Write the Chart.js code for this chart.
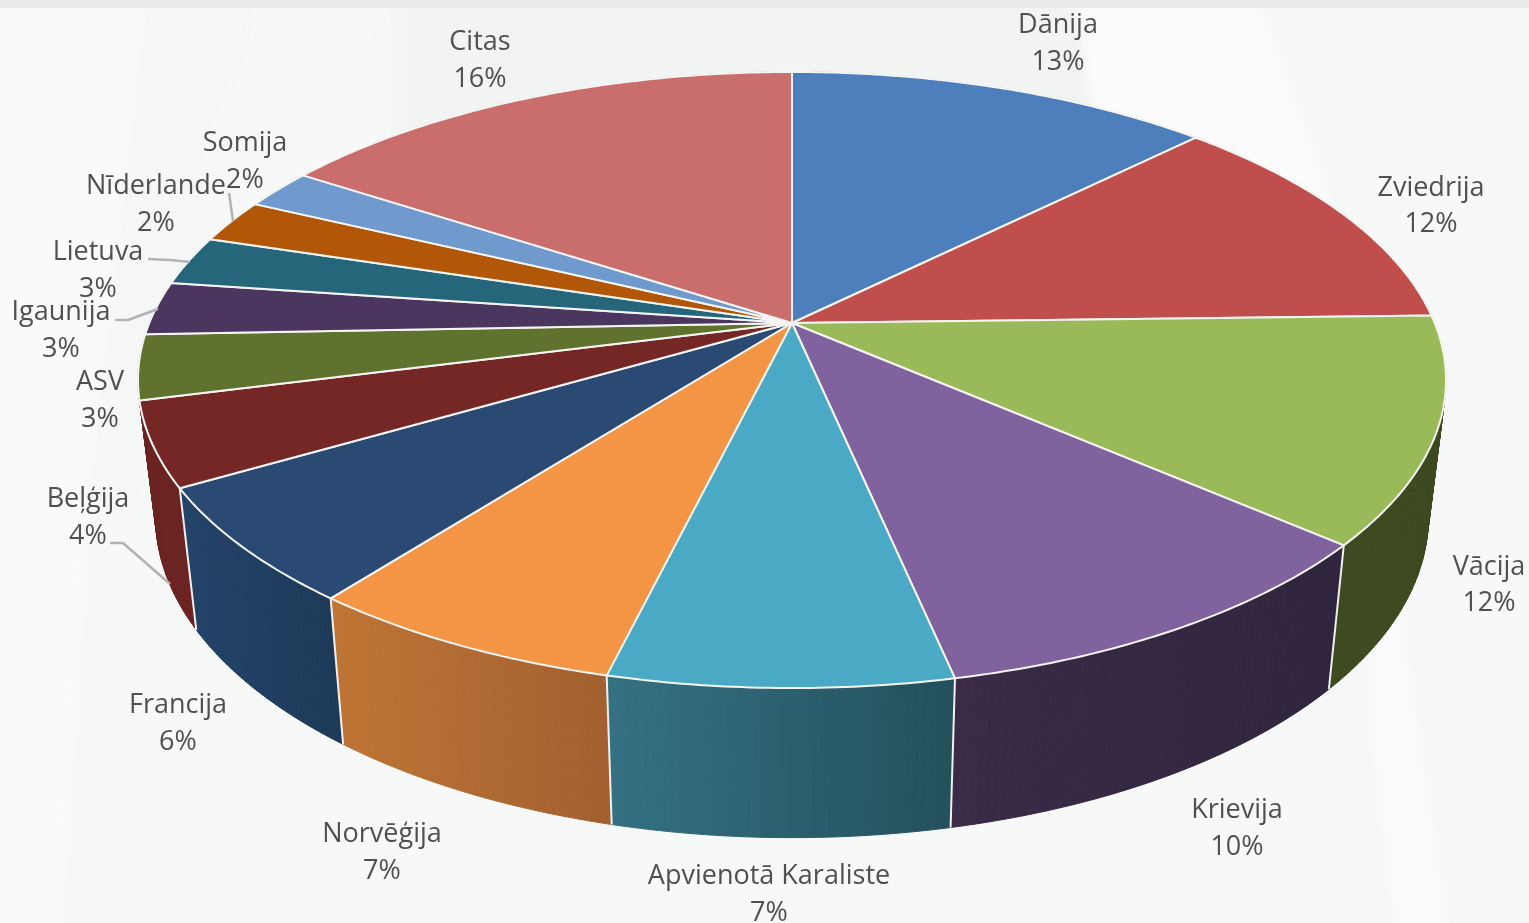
<!DOCTYPE html>
<html>
<head>
<meta charset="utf-8">
<style>
html, body { margin: 0; padding: 0; background: #f7f8f8; overflow: hidden; }
canvas { display: block; }
</style>
<script src="https://cdn.jsdelivr.net/npm/chart.js@4"></script>
</head>
<body>
<canvas id="pie" width="1529" height="923"></canvas>
<script>
// data
const countries = ['Dānija', 'Zviedrija', 'Vācija', 'Krievija', 'Apvienotā Karaliste', 'Norvēģija', 'Francija',
    'Beļģija', 'ASV', 'Igaunija', 'Lietuva', 'Nīderlande', 'Somija', 'Citas'];
const shares = [12.57, 12.03, 11.8, 10.27, 7.13, 6.7, 6.1, 4.4, 3.4, 2.8, 2.6, 2.3, 2.1, 15.8];

// styles
const topColors = ['#4c7fbb', '#bf4e4c', '#9aba59', '#80629f', '#4aa9c4', '#f49445', '#2a4a73', '#752725',
    '#5f732e', '#4b3660', '#25667a', '#b25608', '#7099cd', '#ca6e6d'];
const wallLeft = ['#2d4d72', '#742e2d', '#3e4a20', '#3a2b47', '#347183', '#bf7535', '#234369', '#6b2321',
    '#3a461b', '#2e2040', '#173f4a', '#6a3305', '#44607f', '#7a4241'];
const wallRight = ['#2d4d72', '#742e2d', '#3c4820', '#2f243e', '#23505b', '#a36030', '#1d3a59', '#6b2321',
    '#3a461b', '#2e2040', '#173f4a', '#6a3305', '#44607f', '#7a4241'];

// label layout: centre x, y of the name line, y of the percent line
const labelSpots = [[1058, 25, 62], [1431, 188, 224], [1489, 567, 603], [1237, 810, 847], [769, 876, 913],
    [382, 834, 871], [178, 705, 742], [88, 499, 536], [100, 382, 419], [61, 312, 349], [98, 252, 289],
    [156, 186, 223], [245, 143, 180], [480, 42, 79]];
const leaders = [
    [[229, 193], [233, 221]],
    [[148, 259], [170, 260], [190, 262]],
    [[115, 320], [128, 320], [158, 309]],
    [[110, 543], [123, 543], [170, 584]]
];

// perspective of the disc: centre at 792,323, squeezed towards the back
const cx = 792, cy = 323, radiusX = 642.7, radiusY = 297.5, tilt = 0.185;

function project(angle) {
    const X = Math.cos(angle), Y = Math.sin(angle);
    const d = 1 - tilt * Y;
    return [cx + radiusX * X / d, cy + radiusY * Y / d];
}

// same point on the lower rim of the cake
function lower(p) {
    return [cx + 0.973 * (p[0] - cx), 458 + 1.04 * (p[1] - cy)];
}

function drawBackdrop(ctx) {
    const shards = [
        ['#f9fafa', [[-20, -20], [150, -20], [90, 500], [60, 950], [-20, 950]]],
        ['#f5f6f6', [[150, -20], [270, -20], [130, 500], [90, 500]]],
        ['#f7f8f8', [[270, -20], [395, -20], [330, 170], [200, 170]]],
        ['#f2f3f3', [[395, -20], [1075, -20], [1125, 300], [395, 300]]],
        ['#fbfbfb', [[1075, -20], [1250, -20], [1330, 200], [1105, 200]]],
        ['#fbfbfb', [[1390, 560], [1450, 950], [1400, 950], [1370, 700]]]
    ];
    ctx.save();
    ctx.filter = 'blur(5px)';
    shards.forEach(function (s) {
        ctx.fillStyle = s[0];
        ctx.beginPath();
        s[1].forEach(function (p) { ctx.lineTo(p[0], p[1]); });
        ctx.closePath();
        ctx.fill();
    });
    ctx.restore();
    ctx.fillStyle = '#e9eaea';
    ctx.fillRect(0, 0, 1529, 8);
}

function drawWall(ctx, arc, i) {
    const steps = Math.max(8, Math.ceil((arc.endAngle - arc.startAngle) * 90));
    const pts = [];
    for (let s = 0; s <= steps; s++) {
        pts.push(project(arc.startAngle + (arc.endAngle - arc.startAngle) * s / steps));
    }
    const xs = pts.map(function (p) { return p[0]; });
    const grad = ctx.createLinearGradient(Math.min.apply(null, xs), 0, Math.max.apply(null, xs), 0);
    grad.addColorStop(0, wallLeft[i]);
    grad.addColorStop(1, wallRight[i]);
    ctx.fillStyle = grad;
    ctx.strokeStyle = grad;
    ctx.lineWidth = 1;
    for (let s = 0; s < steps; s++) {
        const a = pts[s], b = pts[s + 1], c = lower(b), d = lower(a);
        ctx.beginPath();
        ctx.moveTo(a[0], a[1]);
        ctx.lineTo(b[0], b[1]);
        ctx.lineTo(c[0], c[1]);
        ctx.lineTo(d[0], d[1]);
        ctx.closePath();
        ctx.fill();
        ctx.stroke();
    }
}

function drawTop(ctx, arc, i) {
    const steps = Math.max(8, Math.ceil((arc.endAngle - arc.startAngle) * 90));
    ctx.beginPath();
    ctx.moveTo(cx, cy);
    for (let s = 0; s <= steps; s++) {
        const p = project(arc.startAngle + (arc.endAngle - arc.startAngle) * s / steps);
        ctx.lineTo(p[0], p[1]);
    }
    ctx.closePath();
    ctx.fillStyle = topColors[i];
    ctx.fill();
    ctx.strokeStyle = '#f4f4f2';
    ctx.lineWidth = 2;
    ctx.lineJoin = 'round';
    ctx.stroke();
}

const cakePlugin = {
    id: 'cake',
    beforeDatasetsDraw: function (chart) {
        const ctx = chart.ctx;
        const arcs = chart.getDatasetMeta(0).data;
        ctx.save();
        drawBackdrop(ctx);

        // walls back to front, lids cover whatever is behind
        const order = arcs.map(function (arc, i) { return i; }).sort(function (a, b) {
            return Math.sin((arcs[a].startAngle + arcs[a].endAngle) / 2) - Math.sin((arcs[b].startAngle + arcs[b].endAngle) / 2);
        });
        order.forEach(function (i) { drawWall(ctx, arcs[i], i); });
        ctx.strokeStyle = '#f0f0ee';
        ctx.lineWidth = 2;
        arcs.forEach(function (arc) {
            if (Math.sin(arc.startAngle) > 0.4) {
                const p = project(arc.startAngle), q = lower(p);
                ctx.beginPath();
                ctx.moveTo(p[0], p[1]);
                ctx.lineTo(q[0], q[1]);
                ctx.stroke();
            }
        });
        arcs.forEach(function (arc, i) { drawTop(ctx, arc, i); });

        // leader lines
        ctx.strokeStyle = '#b3b3b3';
        ctx.lineWidth = 2.5;
        leaders.forEach(function (line) {
            ctx.beginPath();
            line.forEach(function (p) { ctx.lineTo(p[0], p[1]); });
            ctx.stroke();
        });

        // labels
        const total = shares.reduce(function (a, b) { return a + b; }, 0);
        ctx.font = '27px "Open Sans"';
        ctx.fillStyle = '#505050';
        ctx.textAlign = 'center';
        ctx.textBaseline = 'middle';
        countries.forEach(function (name, i) {
            const spot = labelSpots[i];
            ctx.fillText(name, spot[0], spot[1]);
            ctx.fillText(Math.round(shares[i] / total * 100) + '%', spot[0], spot[2]);
        });
        ctx.restore();
        return false;
    }
};

new Chart(document.getElementById('pie').getContext('2d'), {
    type: 'pie',
    data: {
        labels: countries,
        datasets: [{ data: shares, backgroundColor: topColors, borderColor: '#f4f4f2' }]
    },
    options: {
        responsive: false,
        devicePixelRatio: 1,
        animation: false,
        plugins: { legend: { display: false }, tooltip: { enabled: false } }
    },
    plugins: [cakePlugin]
});
</script>
</body>
</html>
